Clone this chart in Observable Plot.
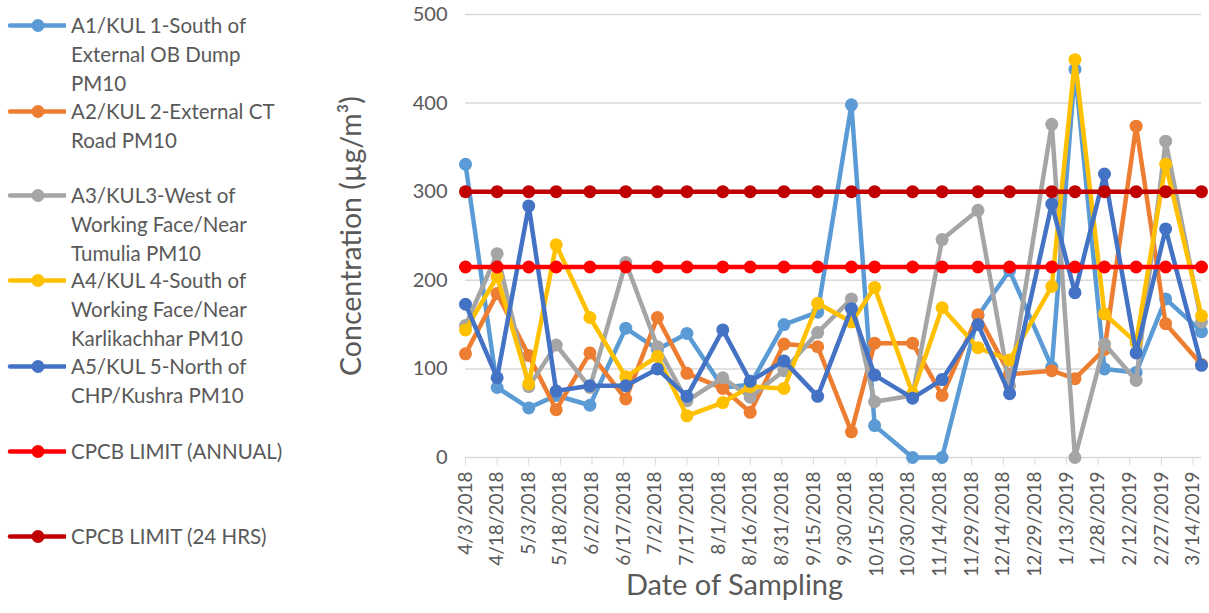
<!DOCTYPE html>
<html>
<head>
<meta charset="utf-8">
<script src="https://cdn.jsdelivr.net/npm/d3@7"></script>
<script src="https://cdn.jsdelivr.net/npm/@observablehq/plot@0.6"></script>
<style>
  html, body { margin: 0; padding: 0; background: #fff; }
  #wrap { position: relative; width: 1209px; height: 613px; font-family: Lato, "Open Sans", sans-serif; color: #595959; }
  #legend { position: absolute; left: 0; top: 0; width: 340px; }
  .entry { position: absolute; left: 0; display: flex; align-items: flex-start; }
  .entry svg { flex: none; margin-top: 0; }
  .entry .lbl { font-size: 20.5px; line-height: 29px; margin-left: 5px; white-space: nowrap; }
</style>
</head>
<body>
<div id="wrap"><div id="chart"></div><div id="legend"></div></div>
<script>
// Sampling dates (all series share them)
const sampleDates = ["4/3/2018","4/18/2018","5/3/2018","5/16/2018","6/1/2018","6/18/2018","7/3/2018","7/17/2018",
  "8/3/2018","8/16/2018","9/1/2018","9/17/2018","10/3/2018","10/14/2018","11/1/2018","11/15/2018",
  "12/2/2018","12/17/2018","1/6/2019","1/17/2019","1/31/2019","2/15/2019","3/1/2019","3/18/2019"];

// Axis tick labels
const tickLabels = ["4/3/2018","4/18/2018","5/3/2018","5/18/2018","6/2/2018","6/17/2018","7/2/2018","7/17/2018",
  "8/1/2018","8/16/2018","8/31/2018","9/15/2018","9/30/2018","10/15/2018","10/30/2018","11/14/2018",
  "11/29/2018","12/14/2018","12/29/2018","1/13/2019","1/28/2019","2/12/2019","2/27/2019","3/14/2019"];
const yTicks = [0, 100, 200, 300, 400, 500];

// Series values (µg/m³)
const a1 = [331, 79, 56, 70, 59, 146, 122, 140, 79, 82, 150, 164, 398, 36, 0, 0, 160, 211, 102, 438, 100, 96, 179, 142];
const a2 = [117, 185, 115, 54, 118, 66, 158, 95, 78, 51, 128, 125, 29, 129, 129, 70, 161, 94, 98, 89, 122, 374, 151, 105];
const a3 = [149, 230, 80, 127, 79, 220, 125, 64, 90, 68, 98, 141, 179, 63, 70, 246, 279, 81, 376, 0, 128, 87, 357, 153];
const a4 = [144, 204, 83, 240, 158, 91, 114, 47, 62, 80, 78, 174, 153, 192, 72, 169, 124, 110, 193, 449, 162, 130, 331, 160];
const a5 = [173, 90, 284, 75, 81, 81, 100, 69, 144, 86, 109, 69, 168, 93, 67, 88, 150, 72, 286, 186, 320, 118, 258, 104];
const annualLimit = [215,215,215,215,215,215,215,215,215,215,215,215,215,215,215,215,215,215,215,215,215,215,215,215];
const dailyLimit  = [300,300,300,300,300,300,300,300,300,300,300,300,300,300,300,300,300,300,300,300,300,300,300,300];

const seriesNames = [
  "A1/KUL 1-South of External OB Dump PM10",
  "A2/KUL 2-External CT Road PM10",
  "A3/KUL3-West of Working Face/Near Tumulia PM10",
  "A4/KUL 4-South of Working Face/Near Karlikachhar PM10",
  "A5/KUL 5-North of CHP/Kushra PM10",
  "CPCB LIMIT (ANNUAL)",
  "CPCB LIMIT (24 HRS)"
];
const legendLines = [
  ["A1/KUL 1-South of", "External OB Dump", "PM10"],
  ["A2/KUL 2-External CT", "Road PM10"],
  ["A3/KUL3-West of", "Working Face/Near", "Tumulia PM10"],
  ["A4/KUL 4-South of", "Working Face/Near", "Karlikachhar PM10"],
  ["A5/KUL 5-North of", "CHP/Kushra PM10"],
  ["CPCB LIMIT (ANNUAL)"],
  ["CPCB LIMIT (24 HRS)"]
];
const colors = ["#5B9BD5", "#ED7D31", "#A5A5A5", "#FFC000", "#4472C4", "#FF0000", "#C00000"];
const legendTops = [11, 97, 181, 266, 352, 437, 522];

const parse = s => { const [m, d, y] = s.split("/").map(Number); return new Date(Date.UTC(y, m - 1, d)); };
const fmt = d => `${d.getUTCMonth() + 1}/${d.getUTCDate()}/${d.getUTCFullYear()}`;

const allValues = [a1, a2, a3, a4, a5, annualLimit, dailyLimit];
const dates = sampleDates.map(parse);
const tickDates = tickLabels.map(parse);

const marks = [
  Plot.ruleY(yTicks, {stroke: "#d9d9d9", strokeWidth: 1.5}),
  Plot.axisY({ticks: yTicks, tickSize: 0, tickPadding: 18, label: null, fontSize: 20, fill: "#595959"}),
  Plot.axisX({ticks: tickDates, tickFormat: fmt, tickRotate: -90, tickSize: 8, tickPadding: 6,
    stroke: "#d9d9d9", fill: "#595959", label: null, fontSize: 19}),
  Plot.text(["Concentration (µg/m³)"], {frameAnchor: "left", textAnchor: "middle", dx: -114, rotate: -90, fontSize: 28.5, fill: "#595959"}),
  Plot.text(["Date of Sampling"], {frameAnchor: "bottom", dx: -99, dy: 137, fontSize: 29, fill: "#595959"})
];
allValues.forEach((vals, i) => {
  const rows = dates.map((d, j) => ({date: d, value: vals[j]}));
  marks.push(Plot.line(rows, {x: "date", y: "value", stroke: colors[i], strokeWidth: 4.5}));
  marks.push(Plot.dot(rows, {x: "date", y: "value", fill: colors[i], r: 6.5}));
});

const chart = Plot.plot({
  width: 1209, height: 613,
  marginLeft: 465, marginRight: 8, marginTop: 14, marginBottom: 156,
  style: {fontFamily: "Lato, 'Open Sans', sans-serif", background: "white", color: "#595959", overflow: "visible"},
  x: {type: "utc", domain: [parse("4/3/2018"), parse("3/18/2019")]},
  y: {domain: [0, 500]},
  marks
});
document.getElementById("chart").appendChild(chart);

// Legend
const legend = document.getElementById("legend");
legendLines.forEach((lines, i) => {
  const e = document.createElement("div");
  e.className = "entry";
  e.style.top = legendTops[i] + "px";
  e.innerHTML = `<svg width="66" height="29"><line x1="10" x2="65" y1="14.5" y2="14.5" stroke="${colors[i]}" stroke-width="4.5" stroke-linecap="round"/><circle cx="38" cy="14.5" r="6.5" fill="${colors[i]}"/></svg><div class="lbl">${lines.join("<br>")}</div>`;
  e.title = seriesNames[i];
  legend.appendChild(e);
});
</script>
</body>
</html>
